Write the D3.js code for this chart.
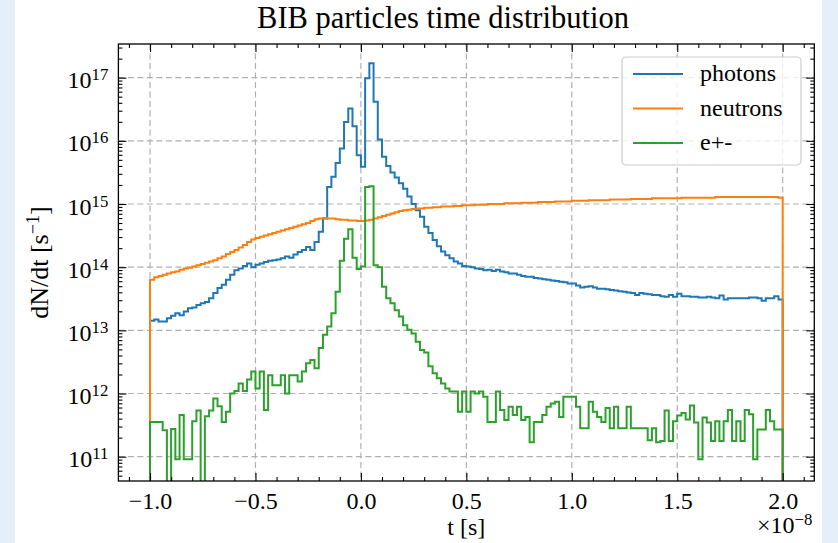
<!DOCTYPE html>
<html>
<head>
<meta charset="utf-8">
<script src="https://cdn.jsdelivr.net/npm/d3@7"></script>
<style>
  html, body { margin: 0; padding: 0; background: #e4effa; }
  svg { display: block; }
  text { font-family: "Liberation Serif", "Times New Roman", serif; fill: #000; }
</style>
</head>
<body>
<svg id="chart" width="838" height="543"></svg>
<script>
// Histogram binning: 150 bins of 0.02 (in units of 1e-8 s) from -1.0 to 2.0
const binStart = -1.0;
const binWidth = 0.02;

// log10(dN/dt [1/s]) per bin; null marks an empty bin
const photonsLog10 = [
  13.15, 13.17, 13.14, 13.14, 13.19, 13.23, 13.27, 13.24, 13.30, 13.35,
  13.36, 13.40, 13.43, 13.45, 13.51, 13.59, 13.67, 13.72, 13.80, 13.88,
  13.95, 13.98, 14.02, 14.06, 14.00, 14.04, 14.06, 14.08, 14.10, 14.11,
  14.12, 14.14, 14.17, 14.15, 14.20, 14.24, 14.27, 14.32, 14.27, 14.40,
  14.56, 14.77, 15.27, 15.43, 15.65, 15.88, 16.30, 16.51, 16.23, 15.77,
  15.59, 16.99, 17.23, 16.62, 16.02, 15.75, 15.60, 15.50, 15.42, 15.33,
  15.24, 15.12, 15.00, 14.90, 14.80, 14.64, 14.54, 14.43, 14.33, 14.25,
  14.19, 14.14, 14.09, 14.06, 14.02, 14.01, 14.00, 13.98, 13.97, 13.95,
  13.96, 13.94, 13.96, 13.93, 13.92, 13.90, 13.90, 13.88, 13.86, 13.85,
  13.85, 13.83, 13.82, 13.81, 13.80, 13.79, 13.78, 13.77, 13.76, 13.74,
  13.74, 13.71, 13.68, 13.69, 13.70, 13.68, 13.66, 13.66, 13.65, 13.64,
  13.63, 13.62, 13.61, 13.60, 13.59, 13.56, 13.59, 13.58, 13.57, 13.56,
  13.56, 13.54, 13.53, 13.56, 13.53, 13.58, 13.54, 13.54, 13.53, 13.53,
  13.52, 13.52, 13.53, 13.52, 13.51, 13.55, 13.49, 13.51, 13.51, 13.51,
  13.51, 13.51, 13.52, 13.52, 13.51, 13.47, 13.51, 13.51, 13.54, 13.49
];
const neutronsLog10 = [
  13.80, 13.84, 13.86, 13.88, 13.90, 13.92, 13.93, 13.96, 13.98, 13.99,
  14.01, 14.03, 14.05, 14.07, 14.09, 14.11, 14.14, 14.17, 14.21, 14.24,
  14.27, 14.31, 14.35, 14.40, 14.44, 14.46, 14.48, 14.50, 14.52, 14.54,
  14.56, 14.58, 14.60, 14.62, 14.64, 14.66, 14.68, 14.70, 14.73, 14.76,
  14.77, 14.78, 14.77, 14.77, 14.76, 14.75, 14.75, 14.74, 14.74, 14.73,
  14.73, 14.74, 14.75, 14.77, 14.79, 14.81, 14.83, 14.85, 14.87, 14.89,
  14.90, 14.91, 14.92, 14.93, 14.93, 14.94, 14.94, 14.95, 14.95, 14.96,
  14.96, 14.96, 14.97, 14.97, 14.98, 14.98, 14.98, 14.99, 14.99, 14.99,
  15.00, 15.00, 15.00, 15.00, 15.01, 15.01, 15.01, 15.01, 15.02, 15.02,
  15.02, 15.02, 15.03, 15.03, 15.03, 15.03, 15.04, 15.04, 15.04, 15.04,
  15.05, 15.05, 15.05, 15.05, 15.06, 15.06, 15.06, 15.06, 15.06, 15.07,
  15.07, 15.07, 15.07, 15.07, 15.08, 15.08, 15.08, 15.08, 15.08, 15.09,
  15.09, 15.09, 15.09, 15.09, 15.09, 15.09, 15.10, 15.10, 15.10, 15.10,
  15.10, 15.10, 15.10, 15.10, 15.11, 15.11, 15.11, 15.11, 15.11, 15.11,
  15.11, 15.11, 15.11, 15.11, 15.11, 15.11, 15.11, 15.11, 15.11, 15.10
];
const electronsLog10 = [
  11.55, 11.55, 11.55, 11.42, null,  11.44, 10.96, 11.66, 10.96, 10.96,
  11.56, 11.73, null,  11.64, 11.73, 11.92, 11.80, 11.55, 11.71, 12.00,
  12.04, 12.16, 12.04, 12.22, 12.35, 12.08, 12.35, 11.74, 12.29, 12.13,
  12.13, 12.29, 12.00, 12.29, 12.29, 12.19, 12.35, 12.48, 12.53, 12.40,
  12.72, 12.93, 13.06, 13.27, 13.61, 14.10, 14.45, 14.60, 14.15, 13.97,
  14.01, 15.27, 15.28, 14.03, 14.00, 13.69, 13.51, 13.43, 13.32, 13.22,
  13.08, 13.01, 12.95, 12.82, 12.69, 12.65, 12.43, 12.32, 12.24, 12.16,
  12.08, 12.03, 12.03, 11.71, 12.03, 11.71, 12.03, 12.00, 12.03, 11.95,
  11.55, 11.55, 12.03, 11.74, 11.58, 11.79, 11.66, 11.79, 11.58, 11.63,
  11.23, 11.55, 11.55, 11.66, 11.79, 11.84, 11.87, 11.63, 11.95, 11.95,
  11.95, 11.79, 11.45, 11.45, 11.87, 11.71, 11.63, 11.55, 11.77, 11.45,
  11.79, 11.45, 11.45, 11.79, 11.45, 11.45, 11.45, 11.45, 11.26, 11.45,
  11.23, 11.25, 11.73, 11.25, 11.56, 11.65, 11.69, 11.59, 11.81, 11.54,
  10.96, 11.62, 11.54, 11.25, 11.56, 11.25, 11.56, 11.74, 11.25, 11.56,
  11.25, 11.74, 11.67, 10.96, 11.43, 11.43, 11.74, 11.56, 11.43, 11.43
];

const seriesNames = ["photons", "neutrons", "e+-"];
const seriesColors = ["#1f77b4", "#ff7f0e", "#2ca02c"];
const seriesLog10 = [photonsLog10, neutronsLog10, electronsLog10];

const xTicks = [-1.0, -0.5, 0.0, 0.5, 1.0, 1.5, 2.0];
const xTickLabels = ["\u22121.0", "\u22120.5", "0.0", "0.5", "1.0", "1.5", "2.0"];
const yTickExponents = [11, 12, 13, 14, 15, 16, 17];

// ---- layout ----
const svg = d3.select("#chart");
const plot = { left: 118.4, right: 814.3, top: 44, bottom: 481 };

// white figure panel
svg.append("rect").attr("x", 15).attr("y", 0).attr("width", 807).attr("height", 543).attr("fill", "#ffffff");

const x = d3.scaleLinear().domain([-1.15, 2.15]).range([plot.left, plot.right]);
const y = d3.scaleLog().domain([Math.pow(10, 10.615), Math.pow(10, 17.533)]).range([plot.bottom, plot.top]);

const majorY = yTickExponents.map(e => Math.pow(10, e));
const minorY = [];
for (let e = 10; e <= 17; e++) {
  for (let m = 2; m <= 9; m++) {
    const v = m * Math.pow(10, e);
    if (v > y.domain()[0] && v < y.domain()[1]) minorY.push(v);
  }
}
const minorX = d3.range(-11, 22).map(i => i / 10).filter(v => !xTicks.some(t => Math.abs(t - v) < 1e-9));

// ---- dashed grid ----
const grid = svg.append("g").attr("stroke", "#b0b0b0").attr("stroke-width", 1.2).attr("stroke-dasharray", "6,3.5");
grid.selectAll("line.gx").data(xTicks).join("line")
  .attr("x1", d => x(d)).attr("x2", d => x(d)).attr("y1", plot.top).attr("y2", plot.bottom);
grid.selectAll("line.gy").data(majorY).join("line")
  .attr("x1", plot.left).attr("x2", plot.right).attr("y1", d => y(d)).attr("y2", d => y(d));

// ---- step histograms ----
svg.append("clipPath").attr("id", "plotClip").append("rect")
  .attr("x", plot.left).attr("y", plot.top)
  .attr("width", plot.right - plot.left).attr("height", plot.bottom - plot.top);

const baseline = 1e8; // empty bins and the outline ends fall to this level, below the visible range
function stepPoints(logs) {
  const pts = [[binStart, baseline]];
  logs.forEach((lv, i) => {
    const v = lv === null ? baseline : Math.pow(10, lv);
    const x0 = binStart + i * binWidth, x1 = binStart + (i + 1) * binWidth;
    pts.push([x0, v], [x1, v]);
  });
  pts.push([binStart + logs.length * binWidth, baseline]);
  return pts;
}
const stepLine = d3.line().x(d => x(d[0])).y(d => y(d[1]));

const hist = svg.append("g").attr("clip-path", "url(#plotClip)");
seriesLog10.forEach((logs, i) => {
  hist.append("path")
    .attr("d", stepLine(stepPoints(logs)))
    .attr("fill", "none")
    .attr("stroke", seriesColors[i])
    .attr("stroke-width", 2)
    .attr("stroke-linejoin", "miter");
});

// ---- axes (inward ticks on all four sides) ----
function styleAxis(g) {
  g.select(".domain").remove();
  g.selectAll(".tick line").attr("stroke", "#000").attr("stroke-width", 1.1);
}
const fontSize = 24;

const xBottom = svg.append("g").attr("transform", `translate(0,${plot.bottom})`)
  .call(d3.axisBottom(x).tickValues(xTicks).tickSize(-8).tickPadding(11)
    .tickFormat((d, i) => xTickLabels[i]));
styleAxis(xBottom);
xBottom.selectAll(".tick text").attr("font-size", fontSize).attr("font-family", "Liberation Serif");
svg.append("g").attr("transform", `translate(0,${plot.bottom})`)
  .call(d3.axisBottom(x).tickValues(minorX).tickSize(-4).tickFormat("")).call(styleAxis);
svg.append("g").attr("transform", `translate(0,${plot.top})`)
  .call(d3.axisTop(x).tickValues(xTicks).tickSize(-8).tickFormat("")).call(styleAxis);
svg.append("g").attr("transform", `translate(0,${plot.top})`)
  .call(d3.axisTop(x).tickValues(minorX).tickSize(-4).tickFormat("")).call(styleAxis);

const yLeft = svg.append("g").attr("transform", `translate(${plot.left},0)`)
  .call(d3.axisLeft(y).tickValues(majorY).tickSize(-8).tickPadding(10).tickFormat(() => ""));
styleAxis(yLeft);
yLeft.selectAll(".tick text").each(function (d, i) {
  const t = d3.select(this).attr("font-size", fontSize).attr("font-family", "Liberation Serif").attr("dy", "0.42em");
  t.append("tspan").text("10");
  t.append("tspan").attr("dy", "-0.48em").attr("font-size", "0.7em").text(String(yTickExponents[i]));
});
svg.append("g").attr("transform", `translate(${plot.left},0)`)
  .call(d3.axisLeft(y).tickValues(minorY).tickSize(-4).tickFormat("")).call(styleAxis);
svg.append("g").attr("transform", `translate(${plot.right},0)`)
  .call(d3.axisRight(y).tickValues(majorY).tickSize(-8).tickFormat("")).call(styleAxis);
svg.append("g").attr("transform", `translate(${plot.right},0)`)
  .call(d3.axisRight(y).tickValues(minorY).tickSize(-4).tickFormat("")).call(styleAxis);

// frame
svg.append("rect")
  .attr("x", plot.left).attr("y", plot.top)
  .attr("width", plot.right - plot.left).attr("height", plot.bottom - plot.top)
  .attr("fill", "none").attr("stroke", "#000").attr("stroke-width", 1.3);

// ---- labels ----
const midX = (plot.left + plot.right) / 2;
svg.append("text").attr("x", 443).attr("y", 28).attr("text-anchor", "middle")
  .attr("font-size", 30.5).text("BIB particles time distribution");

svg.append("text").attr("x", midX).attr("y", 535).attr("text-anchor", "middle")
  .attr("font-size", fontSize).text("t [s]");

const offset = svg.append("text").attr("x", plot.right - 2).attr("y", 533).attr("text-anchor", "end")
  .attr("font-size", fontSize);
offset.append("tspan").text("\u00d710");
offset.append("tspan").attr("dy", "-0.48em").attr("font-size", "0.7em").text("\u22128");

const ylab = svg.append("text")
  .attr("transform", `translate(48,${(plot.top + plot.bottom) / 2}) rotate(-90)`)
  .attr("text-anchor", "middle").attr("font-size", 26);
ylab.append("tspan").text("dN/dt [s");
ylab.append("tspan").attr("dy", "-0.48em").attr("font-size", "0.7em").text("\u22121");
ylab.append("tspan").attr("dy", "0.336em").text("]");

// ---- legend ----
const legend = svg.append("g");
legend.append("rect").attr("x", 622).attr("y", 57).attr("width", 179).attr("height", 108)
  .attr("rx", 4).attr("fill", "#ffffff").attr("fill-opacity", 0.8)
  .attr("stroke", "#cccccc").attr("stroke-width", 1.2);
const rowY = [74, 108.5, 143];
seriesNames.forEach((name, i) => {
  legend.append("line").attr("x1", 633).attr("x2", 683).attr("y1", rowY[i]).attr("y2", rowY[i])
    .attr("stroke", seriesColors[i]).attr("stroke-width", 2);
  legend.append("text").attr("x", 700).attr("y", rowY[i] + 7).attr("font-size", fontSize).text(name);
});
</script>
</body>
</html>
